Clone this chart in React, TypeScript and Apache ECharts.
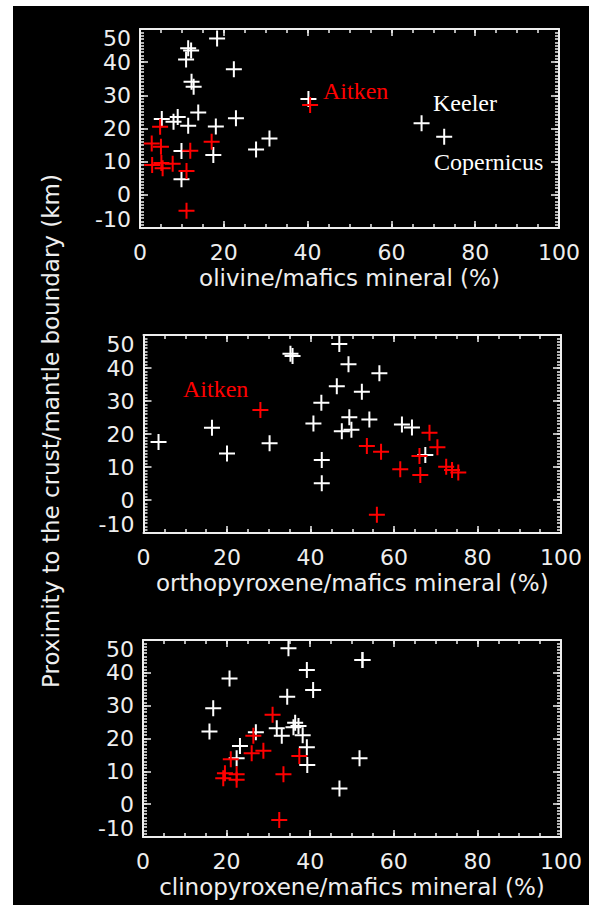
import { useEffect, useRef } from "react";
import * as echarts from "echarts";

// ---------------- data ----------------
const xTicks = [0, 20, 40, 60, 80, 100];
const yTicks = [-10, 0, 10, 20, 30, 40, 50];

const xTitles = [
  "olivine/mafics mineral (%)",
  "orthopyroxene/mafics mineral (%)",
  "clinopyroxene/mafics mineral (%)",
];
const yTitle = "Proximity to the crust/mantle boundary (km)";

// olivine panel
const olivineWhite = [
  [18.4, 47.1], [11.5, 44.2], [12.2, 43.5], [11.0, 40.8], [22.4, 37.9],
  [12.3, 34.1], [12.8, 32.6], [40.2, 28.9], [13.9, 24.8], [5.2, 22.9],
  [9.0, 23.5], [8.0, 22.0], [22.9, 23.1], [11.5, 20.8], [18.1, 20.6],
  [30.9, 17.0], [27.7, 13.7], [17.5, 12.0], [9.9, 13.2], [9.9, 4.7],
  [67.2, 21.6], [72.6, 17.5],
];
const olivineRed = [
  [40.6, 27.1], [4.8, 20.5], [2.8, 15.5], [5.0, 14.5], [17.1, 16.0],
  [12.0, 13.3], [2.9, 9.0], [5.1, 9.6], [5.4, 8.0], [7.8, 9.4],
  [11.1, 7.2], [11.1, -4.8],
];

// orthopyroxene panel
const opxWhite = [
  [3.6, 17.6], [16.4, 21.9], [20.0, 14.1], [30.2, 17.2], [35.2, 44.3],
  [35.7, 43.6], [46.9, 47.3], [49.1, 41.1], [56.5, 38.4], [46.3, 34.5],
  [52.3, 32.8], [42.6, 29.5], [40.7, 23.2], [49.3, 25.1], [54.1, 24.4],
  [47.5, 20.8], [49.8, 21.3], [61.9, 22.9], [64.3, 22.0], [67.5, 13.6],
  [42.7, 12.1], [42.7, 5.1],
];
const opxRed = [
  [28.0, 27.3], [53.5, 16.4], [56.9, 14.6], [68.5, 20.4], [70.4, 16.0],
  [66.1, 13.3], [61.5, 9.3], [66.3, 7.6], [72.5, 10.1], [73.9, 9.1],
  [75.4, 8.3], [55.9, -4.5],
];

// clinopyroxene panel
const cpxWhite = [
  [34.8, 47.5], [52.5, 43.9], [52.5, 43.9], [39.2, 40.9], [20.7, 38.3],
  [40.7, 34.8], [34.5, 32.7], [16.8, 29.2], [15.9, 22.1], [27.0, 21.9],
  [32.0, 23.1], [33.2, 20.8], [36.4, 24.8], [36.0, 23.4], [37.2, 23.8],
  [38.2, 21.0], [39.2, 17.3], [23.2, 17.7], [22.4, 14.0], [39.3, 11.9],
  [51.8, 14.0], [47.0, 4.8],
];
const cpxRed = [
  [31.0, 27.2], [26.4, 20.8], [26.0, 15.5], [28.8, 16.3], [37.4, 14.7],
  [21.0, 13.7], [33.6, 9.1], [19.6, 9.4], [22.4, 9.1], [19.2, 7.9],
  [22.4, 7.4], [32.6, -4.8],
];

const whiteSets = [olivineWhite, opxWhite, cpxWhite];
const redSets = [olivineRed, opxRed, cpxRed];

// ---------------- layout ----------------
const PAGE_W = 589;
const PAGE_H = 909;
const BG_X = 13;
const BG_Y = 6;

// plot boxes in page pixels
const boxes = [
  { l: 140, r: 559, t: 29, b: 228 },
  { l: 143.5, r: 561, t: 335, b: 533 },
  { l: 143, r: 561, t: 640, b: 837 },
];

const FG = "#eeeeee";
const SANS = "DejaVu Sans";
const SERIF = "Liberation Serif";
const FS = 22;
const TITLE_FS = 23;
const CROSS = "path://M8,0L8,16M0,8L16,8";

function buildOption() {
  const grid: any[] = [];
  const xAxis: any[] = [];
  const yAxis: any[] = [];
  const series: any[] = [];

  boxes.forEach((b, g) => {
    grid.push({
      left: b.l - BG_X,
      top: b.t - BG_Y,
      width: b.r - b.l,
      height: b.b - b.t,
      containLabel: false,
    });

    const lineStyle = { color: FG, width: 2 };
    const tickStyle = { color: FG, width: 1.5 };

    const xBase = {
      gridIndex: g,
      type: "value",
      min: 0,
      max: 100,
      splitLine: { show: false },
      minorTick: { show: false },
    };
    // main bottom axis with labels and major ticks
    xAxis.push({
      ...xBase,
      interval: 20,
      position: "bottom",
      name: xTitles[g],
      nameLocation: "middle",
      nameGap: 38,
      nameTextStyle: { color: FG, fontFamily: SANS, fontSize: TITLE_FS, lineHeight: TITLE_FS },
      axisLine: { show: true, onZero: false, lineStyle },
      axisTick: { show: true, inside: true, length: 7, lineStyle: tickStyle },
      axisLabel: {
        show: true,
        color: FG,
        fontFamily: SANS,
        fontSize: FS,
        lineHeight: 18,
        margin: 15,
        customValues: xTicks,
      },
    });
    // top mirror axis
    xAxis.push({
      ...xBase,
      interval: 20,
      position: "top",
      axisLine: { show: true, onZero: false, lineStyle },
      axisTick: { show: true, inside: true, length: 7, lineStyle: tickStyle },
      axisLabel: { show: false },
    });
    // minor ticks bottom / top
    ["bottom", "top"].forEach((pos) =>
      xAxis.push({
        ...xBase,
        interval: 5,
        position: pos,
        axisLine: { show: false, onZero: false },
        axisTick: { show: true, inside: true, length: 4, lineStyle: tickStyle },
        axisLabel: { show: false },
      })
    );

    const yBase = {
      gridIndex: g,
      type: "value",
      min: -10,
      max: 50,
      splitLine: { show: false },
      minorTick: { show: false },
    };
    yAxis.push({
      ...yBase,
      interval: 10,
      position: "left",
      axisLine: { show: true, onZero: false, lineStyle },
      axisTick: { show: true, inside: true, length: 8, lineStyle: tickStyle },
      axisLabel: {
        show: true,
        color: FG,
        fontFamily: SANS,
        fontSize: FS,
        lineHeight: 18,
        margin: 9,
        customValues: yTicks,
        verticalAlignMinLabel: "bottom",
        verticalAlignMaxLabel: "top",
      },
    });
    yAxis.push({
      ...yBase,
      interval: 10,
      position: "right",
      axisLine: { show: true, onZero: false, lineStyle },
      axisTick: { show: true, inside: true, length: 8, lineStyle: tickStyle },
      axisLabel: { show: false },
    });
    ["left", "right"].forEach((pos) =>
      yAxis.push({
        ...yBase,
        interval: 1,
        position: pos,
        axisLine: { show: false, onZero: false },
        axisTick: { show: true, inside: true, length: 4, lineStyle: tickStyle },
        axisLabel: { show: false },
      })
    );

    const mk = (data: number[][], color: string, z: number) => ({
      type: "scatter",
      xAxisIndex: 4 * g,
      yAxisIndex: 4 * g,
      data,
      symbol: CROSS,
      symbolSize: 16,
      itemStyle: { color: "rgba(0,0,0,0)", borderColor: color, borderWidth: 2, opacity: 1 },
      emphasis: { disabled: true },
      silent: true,
      z,
    });
    series.push(mk(whiteSets[g], "#ffffff", 3));
    series.push(mk(redSets[g], "#ff0000", 4));
  });

  const label = (text: string, px: number, py: number, color: string) => ({
    type: "text",
    x: px - BG_X,
    y: py - BG_Y,
    silent: true,
    style: {
      text,
      fill: color,
      fontFamily: SERIF,
      fontSize: 24,
      textAlign: "left",
      align: "left",
      textVerticalAlign: "middle",
      verticalAlign: "middle",
    },
  });

  const graphic = [
    {
      type: "text",
      x: 51 - BG_X,
      y: 431 - BG_Y,
      rotation: Math.PI / 2,
      silent: true,
      style: {
        text: yTitle,
        fill: FG,
        fontFamily: SANS,
        fontSize: TITLE_FS,
        textAlign: "center",
        align: "center",
        textVerticalAlign: "middle",
        verticalAlign: "middle",
      },
    },
    label("Aitken", 323, 91, "#ff0000"),
    label("Keeler", 433, 103, "#ffffff"),
    label("Copernicus", 434, 162, "#ffffff"),
    label("Aitken", 183, 389, "#ff0000"),
  ];

  return {
    animation: false,
    backgroundColor: "#000000",
    grid,
    xAxis,
    yAxis,
    series,
    graphic,
  };
}

export default function App() {
  const ref = useRef<HTMLDivElement>(null);
  useEffect(() => {
    if (!ref.current) return;
    const chart = echarts.init(ref.current, null, { renderer: "svg" });
    chart.setOption(buildOption() as any);
    return () => chart.dispose();
  }, []);
  return (
    <div
      style={{
        position: "absolute",
        left: 0,
        top: 0,
        width: PAGE_W,
        height: PAGE_H,
        background: "#ffffff",
        overflow: "hidden",
      }}
    >
      <div
        ref={ref}
        style={{
          position: "absolute",
          left: BG_X,
          top: BG_Y,
          width: PAGE_W - BG_X,
          height: PAGE_H - BG_Y - 4,
        }}
      />
    </div>
  );
}
